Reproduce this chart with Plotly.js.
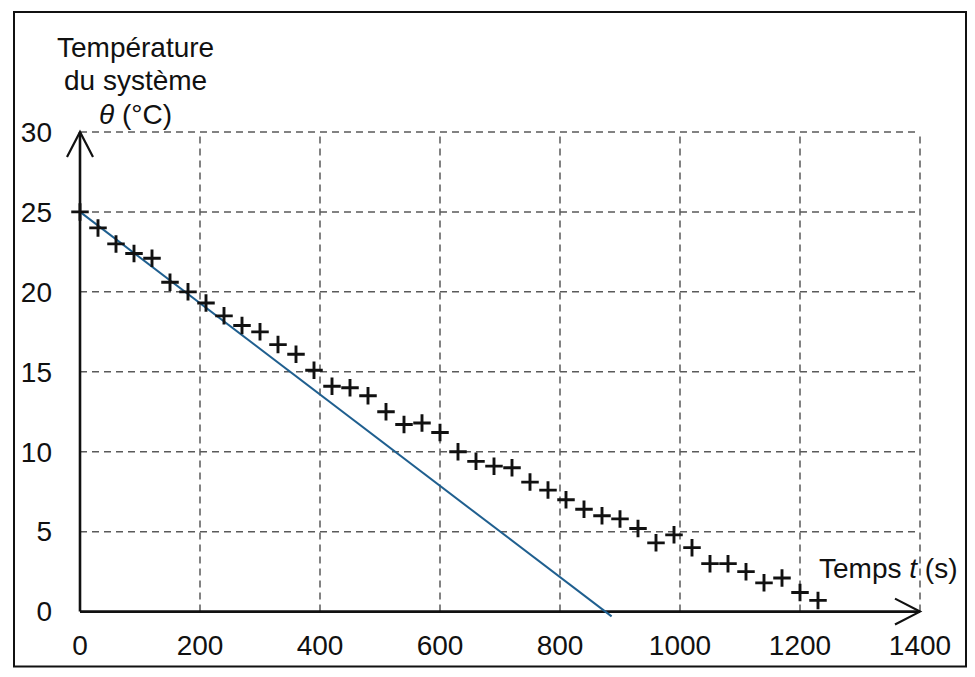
<!DOCTYPE html>
<html><head><meta charset="utf-8">
<script src="https://cdn.plot.ly/plotly-3.0.1.min.js"></script>
<style>html,body{margin:0;padding:0;background:#fff;} #chart{width:975px;height:677px;}</style>
</head><body><div id="chart"></div>
<script>
// ---- data ----
const timeS = [0,30,60,90,120,150,180,210,240,270,300,330,360,390,420,450,480,510,540,570,600,630,660,690,720,750,780,810,840,870,900,930,960,990,1020,1050,1080,1110,1140,1170,1200,1230];
const tempC = [25.0,24.0,23.0,22.4,22.1,20.6,20.0,19.3,18.5,17.9,17.5,16.7,16.1,15.1,14.1,14.0,13.5,12.5,11.7,11.8,11.2,10.0,9.4,9.1,9.0,8.1,7.6,7.0,6.4,6.0,5.8,5.2,4.3,4.8,4.0,3.0,3.0,2.5,1.8,2.1,1.2,0.7];
const tangentT = [0, 886];
const tangentTheta = [25, -0.3];
const xTickVals = [0,200,400,600,800,1000,1200,1400];
const xTickText = ['0','200','400','600','800','1000','1200','1400'];
const yTickVals = [0,5,10,15,20,25,30];
const yTickText = ['0','5','10','15','20','25','30'];
const yTitleLines = ['Température','du système','<i>θ</i> (°C)'];
const xTitle = 'Temps <i>t</i> (s)';

// ---- layout geometry ----
const W = 975, H = 677;
const X_RANGE = [-45, 1450], Y_RANGE = [-0.9, 31];
const kx = 0.6, ky = 16;                       // px per unit
const M = {l:53, t:116};
M.r = W - M.l - kx*(X_RANGE[1]-X_RANGE[0]);
M.b = H - M.t - ky*(Y_RANGE[1]-Y_RANGE[0]);
const plotW = W - M.l - M.r, plotH = H - M.t - M.b;
const pxToPaperX = px => (px - M.l) / plotW;
const pxToPaperY = py => (H - M.b - py) / plotH;

const FONT = {family:'"Liberation Sans", Arial, sans-serif', size:28, color:'#111'};
const xMax = xTickVals[xTickVals.length-1];
const yMax = yTickVals[yTickVals.length-1];

const shapes = [];
const gridStyle = {color:'#5a5a5a', width:1.5, dash:'7px,5px'};
xTickVals.filter(v => v > 0).forEach(v => shapes.push({type:'line', xref:'x', yref:'y', x0:v, x1:v, y0:0, y1:yMax, line:gridStyle, layer:'below'}));
yTickVals.filter(v => v > 0).forEach(v => shapes.push({type:'line', xref:'x', yref:'y', x0:0, x1:xMax, y0:v, y1:v, line:gridStyle, layer:'below'}));
// axes with arrows
const axisLine = {color:'#111', width:2.6};
shapes.push({type:'line', xref:'x', yref:'y', x0:0, x1:xMax, y0:0, y1:0, line:axisLine, layer:'below'});
shapes.push({type:'line', xref:'x', yref:'y', x0:0, x1:0, y0:0, y1:yMax, line:axisLine, layer:'below'});
const armHalf = 13, armLen = 25;
shapes.push({type:'path', xref:'x', yref:'y', layer:'below', line:{color:'#111', width:2.2},
  path:`M ${-armHalf/kx},${yMax-armLen/ky} L 0,${yMax} L ${armHalf/kx},${yMax-armLen/ky}`});
shapes.push({type:'path', xref:'x', yref:'y', layer:'below', line:{color:'#111', width:2.2},
  path:`M ${xMax-armLen/kx},${armHalf/ky} L ${xMax},0 L ${xMax-armLen/kx},${-armHalf/ky}`});
// frame
shapes.push({type:'rect', xref:'paper', yref:'paper', x0:pxToPaperX(14), x1:pxToPaperX(966), y0:pxToPaperY(667), y1:pxToPaperY(12), line:{color:'#111', width:2}, layer:'below'});

const annotations = [];
const titleY = [47, 80, 114];
yTitleLines.forEach((txt, i) => annotations.push({xref:'paper', yref:'paper', x:pxToPaperX(135), y:pxToPaperY(titleY[i]), xanchor:'center', yanchor:'middle', text:txt, showarrow:false, font:FONT}));
annotations.push({xref:'x', yref:'y', x:1347, y:2.7, xanchor:'center', yanchor:'middle', text:xTitle, showarrow:false, font:FONT});

const traces = [
  {x:tangentT, y:tangentTheta, type:'scatter', mode:'lines', line:{color:'#1f5f8f', width:2}, hoverinfo:'skip', cliponaxis:false},
  {x:timeS, y:tempC, type:'scatter', mode:'markers', cliponaxis:false,
   marker:{symbol:'cross-thin', size:12.5, color:'#111', line:{color:'#111', width:2.9}}}
];

const layout = {
  width:W, height:H, margin:M, showlegend:false,
  paper_bgcolor:'#fff', plot_bgcolor:'#fff',
  font:FONT,
  xaxis:{range:X_RANGE, tickmode:'array', tickvals:xTickVals, ticktext:xTickText, showgrid:false, zeroline:false, showline:false, ticks:'', tickfont:FONT, fixedrange:true},
  yaxis:{range:Y_RANGE, tickmode:'array', tickvals:yTickVals, ticktext:yTickText, showgrid:false, zeroline:false, showline:false, ticks:'', tickfont:FONT, fixedrange:true},
  shapes:shapes, annotations:annotations
};
Plotly.newPlot('chart', traces, layout, {staticPlot:true, displayModeBar:false});
</script></body></html>
